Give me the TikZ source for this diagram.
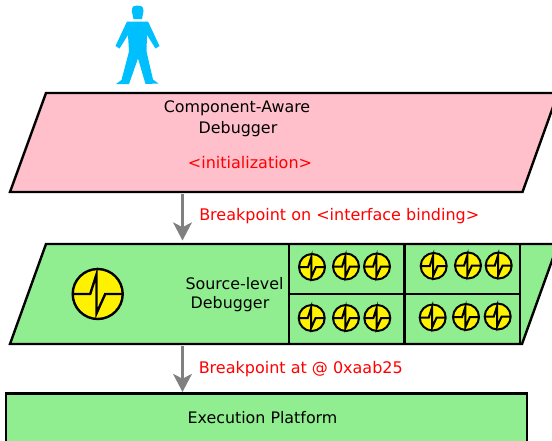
\documentclass[tikz,border=0pt]{standalone}
\usepackage{fontspec}
\setmainfont{DejaVu Sans}
\usetikzlibrary{arrows.meta}
\definecolor{pinkbox}{HTML}{FFC0CB}
\definecolor{greenbox}{HTML}{90EE90}
\definecolor{personblue}{HTML}{00BFFF}
\tikzset{
  x=0.75pt,y=-0.75pt,
  panel/.style={draw=black,line width=1.8pt,line join=miter},
  grid/.style={draw=black,line width=1.6pt},
  label/.style={font=\fontsize{11.9pt}{14pt}\selectfont,text=black,inner sep=0pt,anchor=center},
  redlabel/.style={font=\fontsize{12pt}{14pt}\selectfont,text=red,inner sep=0pt},
  flow/.style={draw=gray,line width=2.1pt,-{Stealth[length=13.5pt,width=14pt,inset=3.5pt]}},
  pics/probe/.style={code={
    \draw[fill=yellow,draw=black,line width=#1] (0,0) circle (1);
    \draw[draw=black,line width=#1,line join=miter,fill=none]
      (-1,0) -- (-0.3,0) -- (-0.05,-0.78) -- (-0.05,0.78) -- (0.3,0) -- (1,0);
  }},
}
\begin{document}
\begin{tikzpicture}
\useasboundingbox (0,0) rectangle (552,440);
\clip (0,0) rectangle (552,440);
\fill[white] (0,0) rectangle (552,440);
% person
\fill[personblue] (131.8,11) .. controls (131.8,5.5) and (135,5.5) .. (137.5,5.5) .. controls (140,5.5) and (143.5,5.5) .. (143.5,11) -- (142,19) -- (133.5,19) -- cycle;
\fill[personblue,line join=round] (127,21.5) -- (148,21.5) -- (159.5,46) -- (155.5,48.5) -- (147,35) -- (146.5,51.5) -- (153,79.5) -- (158.5,83.5) -- (145.5,84) -- (138,58.5) -- (129,84) -- (116,84) -- (121.5,80) -- (129,51.5) -- (128,35) -- (119.5,48.5) -- (115.5,46) -- cycle;
% top panel
\draw[panel,fill=pinkbox] (46,93) -- (558,93) -- (522.5,192) -- (10,192) -- cycle;
\node[label] (comp) at (237,108.7) {Component-Aware};
\node[label] (dbg) at (238,128.7) {Debugger};
\node[redlabel] (init) at (250,162.7) {<initialization>};
% middle panel
\draw[panel,fill=greenbox] (46,244) -- (558,244) -- (522,344) -- (10,344) -- cycle;
\draw[grid] (289,244) -- (289,344);
\draw[grid] (404.5,244) -- (404.5,344);
\draw[grid] (520,244) -- (520,344);
\draw[grid] (289,294) -- (520,294);
\node[label] (src) at (234.5,283.7) {Source-level};
\node[label] (dbgb) at (230,303.7) {Debugger};
\pic[scale=25] at (97.7,294) {probe=1.8pt};
\foreach \cx/\cy in {312/267,346/266.5,377/266.5,433.7/266,468/265.5,498.7/265.5,311.7/318,346/318,377.3/318,432.7/317.5,466/317,497.7/316.5}{
  \pic[scale=13] at (\cx,\cy) {probe=1.5pt};
}
% bottom panel
\draw[panel,fill=greenbox] (6,393.5) rectangle (527,460);
\node[label] (exec) at (262.5,417.7) {Execution Platform};
% connectors
\coordinate (a1) at (182.5,194);
\coordinate (b1) at (182.5,240.5);
\coordinate (a2) at (182.5,346);
\coordinate (b2) at (182.5,392);
\draw[flow] (a1) -- (b1);
\draw[flow] (a2) -- (b2);
\node[redlabel,anchor=west] (l1) at (199,215.7) {Breakpoint on <interface binding>};
\node[redlabel,anchor=west] (l2) at (198.5,368.7) {Breakpoint at @ 0xaab25};
\end{tikzpicture}
\end{document}
